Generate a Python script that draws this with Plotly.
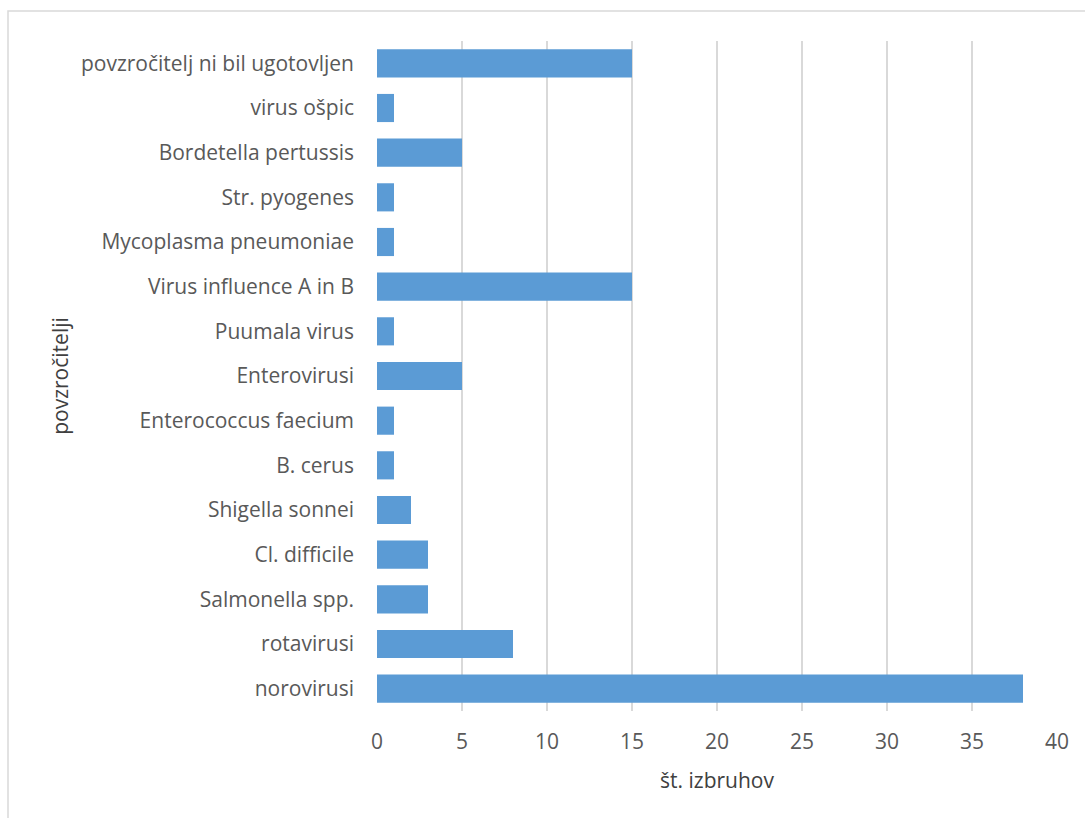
import plotly.graph_objects as go

# Pathogens, listed bottom to top as drawn on the category axis
povzrocitelji = [
    "norovirusi",
    "rotavirusi",
    "Salmonella spp.",
    "Cl. difficile",
    "Shigella sonnei",
    "B. cerus",
    "Enterococcus faecium",
    "Enterovirusi",
    "Puumala virus",
    "Virus influence A in B",
    "Mycoplasma pneumoniae",
    "Str. pyogenes",
    "Bordetella pertussis",
    "virus ošpic",
    "povzročitelj ni bil ugotovljen",
]
st_izbruhov = [38, 8, 3, 3, 2, 1, 1, 5, 1, 15, 1, 1, 5, 1, 15]
x_ticks = [0, 5, 10, 15, 20, 25, 30, 35, 40]

W, H = 1085, 818
L, R, T, B = 377, 28, 41, 107
font_family = "Open Sans, Lato, Liberation Sans, sans-serif"
text_col = "#595959"
title_col = "#404040"
grid_col = "#d9d9d9"

fig = go.Figure(
    go.Bar(
        x=st_izbruhov,
        y=povzrocitelji,
        orientation="h",
        marker=dict(color="#5b9bd5", line=dict(width=0)),
        hoverinfo="x+y",
    )
)

pw = W - L - R
ph = H - T - B

fig.update_layout(
    width=W,
    height=H,
    margin=dict(l=L, r=R, t=T, b=B, pad=0),
    paper_bgcolor="white",
    plot_bgcolor="white",
    bargap=0.37,
    showlegend=False,
    font=dict(family=font_family, size=21, color=text_col),
    xaxis=dict(
        range=[0, 40],
        tickvals=x_ticks,
        ticktext=[str(v) for v in x_ticks],
        showgrid=True,
        gridcolor=grid_col,
        gridwidth=1.5,
        zeroline=False,
        showline=False,
        ticks="",
        ticklabelstandoff=16,
        tickfont=dict(size=21, color=text_col),
        title=dict(text="št. izbruhov", standoff=19,
                   font=dict(size=21, color=title_col)),
    ),
    yaxis=dict(
        type="category",
        categoryorder="array",
        categoryarray=povzrocitelji,
        showgrid=False,
        zeroline=False,
        showline=False,
        ticks="",
        ticklabelstandoff=22,
        tickfont=dict(size=21, color=text_col),
        title=dict(text="povzročitelji", standoff=6,
                   font=dict(size=21, color=title_col)),
    ),
    shapes=[
        dict(
            type="rect",
            xref="paper",
            yref="paper",
            x0=(8 - L) / pw,
            x1=1.2,
            y0=-0.5,
            y1=(H - B - 11) / ph,
            line=dict(color=grid_col, width=1.5),
            fillcolor="rgba(0,0,0,0)",
            layer="below",
        )
    ],
)

fig.write_html("out.html")
